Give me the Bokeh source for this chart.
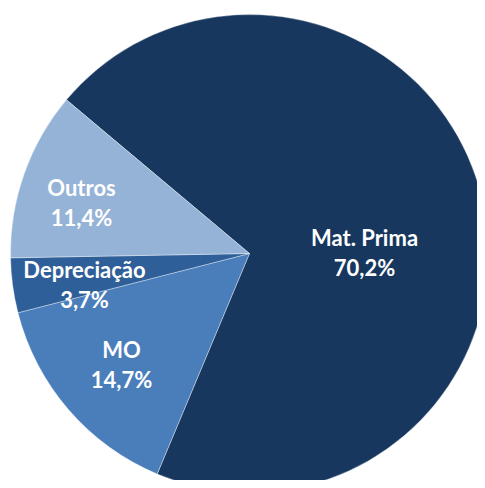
from bokeh.plotting import figure
from bokeh.models import Range1d, ColumnDataSource
from bokeh.core.properties import value
from bokeh.embed import file_html
from bokeh.resources import INLINE
import math

# Data
categories = ["Mat. Prima", "MO", "Depreciação", "Outros"]
shares = [70.2, 14.7, 3.7, 11.4]
pct_labels = ["70,2%", "14,7%", "3,7%", "11,4%"]

# Styles / layout
colors = ["#17375E", "#4A7EBB", "#2F5F98", "#95B3D7"]
start_deg = 140.0  # where the first slice begins, going clockwise
cx, cy, r = 249, 235, 239
# label centres (y measured upward)
label_pos = [(364, 236), (121, 124), (84, 204), (81, 286)]
line_gap = 30

total = sum(shares)
starts, ends = [], []
cum = 0.0
for s in shares:
    a_end = start_deg - cum / total * 360.0
    cum += s
    a_start = start_deg - cum / total * 360.0
    starts.append(math.radians(a_start))
    ends.append(math.radians(a_end))

src = ColumnDataSource(dict(start=starts, end=ends, color=colors, cat=categories))

p = figure(width=477, height=480, output_backend="svg", toolbar_location=None,
           x_range=Range1d(0, 477), y_range=Range1d(8, 488), min_border=0)
p.axis.visible = False
p.grid.visible = False
p.outline_line_color = None
p.background_fill_color = "white"

p.wedge(x=cx, y=cy, radius=r, radius_units="data", start_angle="start", end_angle="end",
        direction="anticlock", fill_color="color", line_color="white", line_width=0.6,
        line_alpha=0.6, source=src)

tx, ty, tt = [], [], []
for (x, y), c, pl in zip(label_pos, categories, pct_labels):
    tx += [x, x]
    ty += [y + line_gap / 2, y - line_gap / 2]
    tt += [c, pl]

p.text(x=tx, y=ty, text=tt, text_color="white", text_font=value("Lato"),
       text_font_style="bold", text_font_size="22px", text_align="center",
       text_baseline="middle")

open("out.html", "w").write(file_html(p, INLINE))
